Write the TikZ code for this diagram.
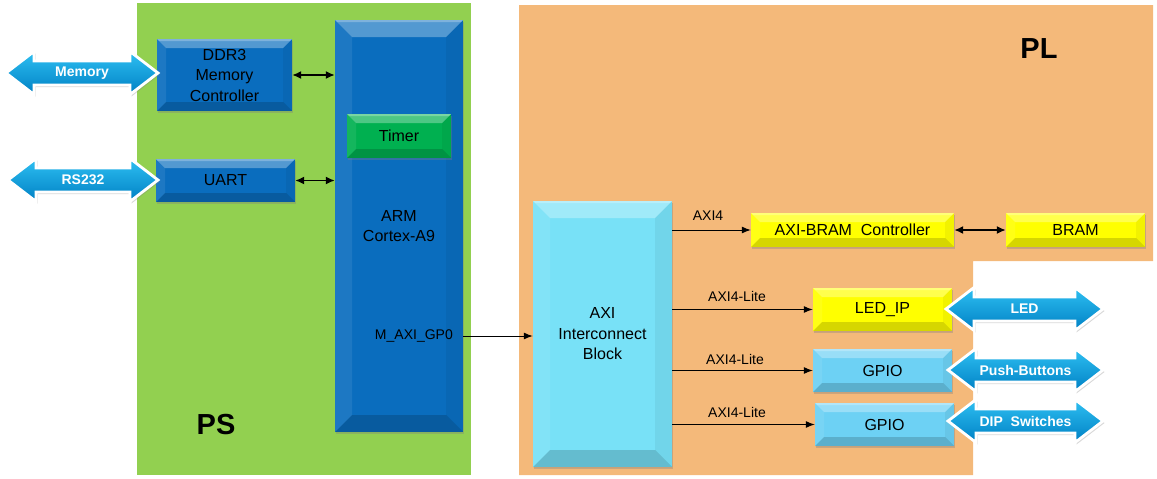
\documentclass[tikz,border=0pt]{standalone}
\usepackage{fontspec}
\setmainfont{Liberation Sans}
\usetikzlibrary{arrows.meta,shadows}
\definecolor{psgreen}{HTML}{92D050}
\definecolor{plorange}{HTML}{F4B97A}
\definecolor{boxblue}{HTML}{0A6DBE}
\definecolor{timergreen}{HTML}{00B050}
\definecolor{boxyellow}{HTML}{FFFF00}
\definecolor{axicyan}{HTML}{78E1F7}
\definecolor{gpiocyan}{HTML}{6DD1F4}
\definecolor{arrowtop}{HTML}{2EC0F2}
\definecolor{arrowbot}{HTML}{0080C4}
\newcommand\bigdarrow[5]{%
  \path[bigarrow] (#1,#3) -- (#1+28,#3-21.5) -- (#1+28,#3-12) -- (#2-28,#3-12) -- (#2-28,#3-21.5) -- (#2,#3) -- (#2-28,#3+21.5) -- (#2-28,#3+12) -- (#1+28,#3+12) -- (#1+28,#3+21.5) -- cycle;
  \node[arrowtext] (#4) at ({(#1+#2)/2},#3) {#5};}
\begin{document}
\begin{tikzpicture}[x=1pt,y=-1pt,
  bevel/.style={path picture={
    \fill[white,opacity=.3] (path picture bounding box.north west) -- (path picture bounding box.north east)
      -- ([xshift=-#1pt,yshift=-#1pt]path picture bounding box.north east) -- ([xshift=#1pt,yshift=-#1pt]path picture bounding box.north west) -- cycle;
    \fill[white,opacity=.25] (path picture bounding box.north west) -- (path picture bounding box.north east)
      -- ([xshift=-2pt,yshift=-2pt]path picture bounding box.north east) -- ([xshift=2pt,yshift=-2pt]path picture bounding box.north west) -- cycle;
    \fill[white,opacity=.08] (path picture bounding box.north west) -- ([xshift=#1pt,yshift=-#1pt]path picture bounding box.north west)
      -- ([xshift=#1pt,yshift=#1pt]path picture bounding box.south west) -- (path picture bounding box.south west) -- cycle;
    \fill[black,opacity=.16] (path picture bounding box.south west) -- ([xshift=#1pt,yshift=#1pt]path picture bounding box.south west)
      -- ([xshift=-#1pt,yshift=#1pt]path picture bounding box.south east) -- (path picture bounding box.south east) -- cycle;
    \fill[black,opacity=.05] (path picture bounding box.north east) -- ([xshift=-#1pt,yshift=-#1pt]path picture bounding box.north east)
      -- ([xshift=-#1pt,yshift=#1pt]path picture bounding box.south east) -- (path picture bounding box.south east) -- cycle;
  }},
  box/.style={rectangle, inner sep=0pt, align=center, font=\fontsize{16}{20.5}\selectfont,
    drop shadow={shadow xshift=1pt,shadow yshift=-2pt,opacity=.35}, bevel=#1},
  box/.default=9,
  bluebox/.style={box, fill=boxblue},
  greenbox/.style={box, fill=timergreen},
  yellowbox/.style={box, fill=boxyellow},
  cyanbox/.style={box, fill=gpiocyan},
  bigarrow/.style={draw=white, line width=2.8pt, line join=miter, top color=arrowtop, bottom color=arrowbot,
    drop shadow={shadow xshift=1.5pt,shadow yshift=-2pt,opacity=.3}},
  arrowtext/.style={text=white, font=\bfseries\fontsize{14}{16}\selectfont, inner sep=0pt},
  lbl/.style={font=\fontsize{14}{16}\selectfont, inner sep=0pt},
  conn/.style={line width=1pt, -{Latex[length=9pt,width=7pt]}},
  dconn/.style={line width=1.6pt, {Latex[length=9pt,width=8pt]}-{Latex[length=9pt,width=8pt]}},
  big/.style={font=\bfseries\fontsize{29}{34}\selectfont, inner sep=0pt}]
\useasboundingbox (0,0) rectangle (1157,479);
% regions
\fill[psgreen] (137,3) rectangle (471,475);
\fill[plorange] (519,5) -- (1153,5) -- (1153,261) -- (973,261) -- (973,475) -- (519,475) -- cycle;
\node[big] (ps) at (216,425) {PS};
\node[big] (pl) at (1039,49) {PL};
% PS boxes
\node[bluebox, minimum width=135pt, minimum height=72pt] (ddr) at (224.5,75) {DDR3\\Memory\\Controller};
\node[bluebox, minimum width=139pt, minimum height=43pt] (uart) at (225.5,180.5) {UART};
\node[box=17, fill=boxblue, minimum width=128pt, minimum height=412pt] (arm) at (399,226) {ARM\\Cortex-A9};
\node[greenbox, minimum width=104pt, minimum height=44pt] (timer) at (399,136) {Timer};
\node[lbl, anchor=east] (mgp) at (453,336) {M\_AXI\_GP0};
% PL boxes
\node[box=17, fill=axicyan, minimum width=139pt, minimum height=266pt] (axi) at (602.5,334) {AXI\\Interconnect\\Block};
\node[yellowbox, minimum width=203pt, minimum height=34pt] (bramctl) at (852.5,230) {AXI-BRAM\ \ Controller};
\node[yellowbox, minimum width=139pt, minimum height=34pt] (bram) at (1075.5,230) {BRAM};
\node[yellowbox, minimum width=139pt, minimum height=43pt] (led) at (882.5,309.5) {LED\_IP};
\node[cyanbox, minimum width=139pt, minimum height=43pt] (gpio1) at (882.5,370.5) {GPIO};
\node[cyanbox, minimum width=139pt, minimum height=43pt] (gpio2) at (884.5,424.5) {GPIO};
% connectors
\draw[dconn] (ddr.east) -- (arm.west |- ddr.east);
\draw[dconn] (uart.east) -- (arm.west |- uart.east);
\draw[conn] (arm.east |- mgp) -- (axi.west |- mgp);
\draw[conn] (axi.east |- bramctl) -- (bramctl.west);
\draw[dconn] (bramctl.east) -- (bram.west);
\draw[conn] (axi.east |- led) -- (led.west);
\draw[conn] (axi.east |- gpio1) -- (gpio1.west);
\draw[conn] (axi.east |- gpio2) -- (gpio2.west);
\node[lbl] (l1) at (708,216) {AXI4};
\node[lbl] (l2) at (737,296) {AXI4-Lite};
\node[lbl] (l3) at (735,359) {AXI4-Lite};
\node[lbl] (l4) at (737,412) {AXI4-Lite};
% big double arrows
\bigdarrow{6}{158}{73}{memarrow}{Memory}
\bigdarrow{8}{158}{180}{rsarrow}{RS232}
\bigdarrow{946}{1103}{309}{ledarrow}{LED}
\bigdarrow{948}{1103}{370}{pbarrow}{Push-Buttons}
\bigdarrow{948}{1103}{421}{diparrow}{DIP\ \ Switches}
\end{tikzpicture}
\end{document}
